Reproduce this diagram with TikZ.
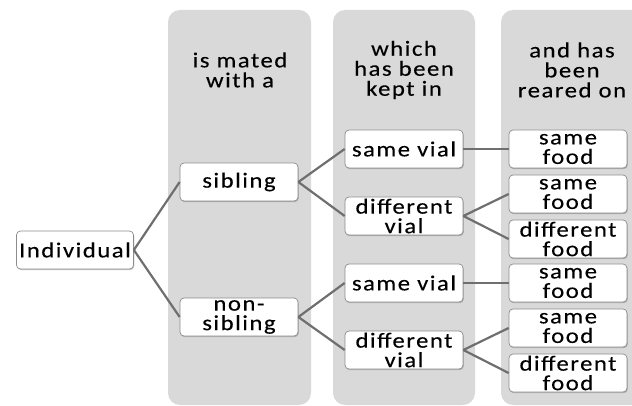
\documentclass[tikz,border=0pt]{standalone}
\usepackage{fontspec}
\newfontfamily\boxfont[LetterSpace=7,FakeStretch=1.15,FakeBold=0.2]{Carlito}
\usepackage{tikz}
\usetikzlibrary{positioning,shadows}
\definecolor{colgray}{HTML}{D9D9D9}
\definecolor{linkgray}{HTML}{6F6F6F}
\definecolor{rimgray}{HTML}{8C8C8C}
\tikzset{choice node/.style={rectangle,rounded corners=4pt,fill=white,draw=rimgray,line width=0.7pt,
    minimum width=118pt,minimum height=38pt,inner sep=0pt,align=center,
    font=\boxfont\fontsize{21.5}{19.5}\selectfont,
    drop shadow={shadow xshift=0.8pt,shadow yshift=-1.2pt,opacity=0.35,fill=black!60}}}
\tikzset{head node/.style={align=center,inner sep=0pt,font=\boxfont\fontsize{21.5}{20}\selectfont}}
\tikzset{link/.style={draw=linkgray,line width=2.2pt}}

\begin{document}
\begin{tikzpicture}[x=1pt,y=-1pt,on grid]
            \useasboundingbox (0,0) rectangle (632,406);
            \clip (0,0) rectangle (632,406);
            % the three stages
            \fill[colgray,rounded corners=12pt] (168,10) rectangle (311,405);
            \fill[colgray,rounded corners=12pt] (333,10) rectangle (475,405);
            \fill[colgray,rounded corners=12pt] (501,10) rectangle (650,405);
            \node[head node] (hmate) at (240,70) {is mated\\with a};
            \node[head node] (hkept) at (404,70) {which\\has been\\kept in};
            \node[head node] (hfood) at (572,70) {and has\\been\\reared on};

            \node[choice node,minimum width=117pt] (ind) at (75,250) {Individual};
            \node[choice node] (sib) [above right = 68pt and 164pt of ind] {sibling};
            \node[choice node] (nonsib) [below right = 67pt and 164pt of ind] {non-\\sibling};

            \node[choice node] (sameA) [above right = 33pt and 165pt of sib] {same vial};
            \node[choice node] (diffA) [below right = 34pt and 165pt of sib] {different\\vial};
            \node[choice node] (sameB) [above right = 34pt and 165pt of nonsib] {same vial};
            \node[choice node] (diffB) [below right = 33pt and 165pt of nonsib] {different\\vial};

            \node[choice node] (foodA) [right = 164pt of sameA] {same\\food};
            \node[choice node] (foodB) [above right = 22pt and 164pt of diffA] {same\\food};
            \node[choice node] (foodC) [below right = 23pt and 164pt of diffA] {different\\food};
            \node[choice node] (foodD) [right = 164pt of sameB] {same\\food};
            \node[choice node] (foodE) [above right = 22pt and 164pt of diffB] {same\\food};
            \node[choice node] (foodF) [below right = 23pt and 164pt of diffB] {different\\food};

            \path[link]
            (ind.east) edge (sib.west)
            (ind.east) edge (nonsib.west)
            (sib.east) edge (sameA.west)
            (sib.east) edge (diffA.west)
            (nonsib.east) edge (sameB.west)
            (nonsib.east) edge (diffB.west)
            (sameA.east) edge (foodA.west)
            (diffA.east) edge (foodB.west)
            (diffA.east) edge (foodC.west)
            (sameB.east) edge (foodD.west)
            (diffB.east) edge (foodE.west)
            (diffB.east) edge (foodF.west);
        \end{tikzpicture}
\end{document}
